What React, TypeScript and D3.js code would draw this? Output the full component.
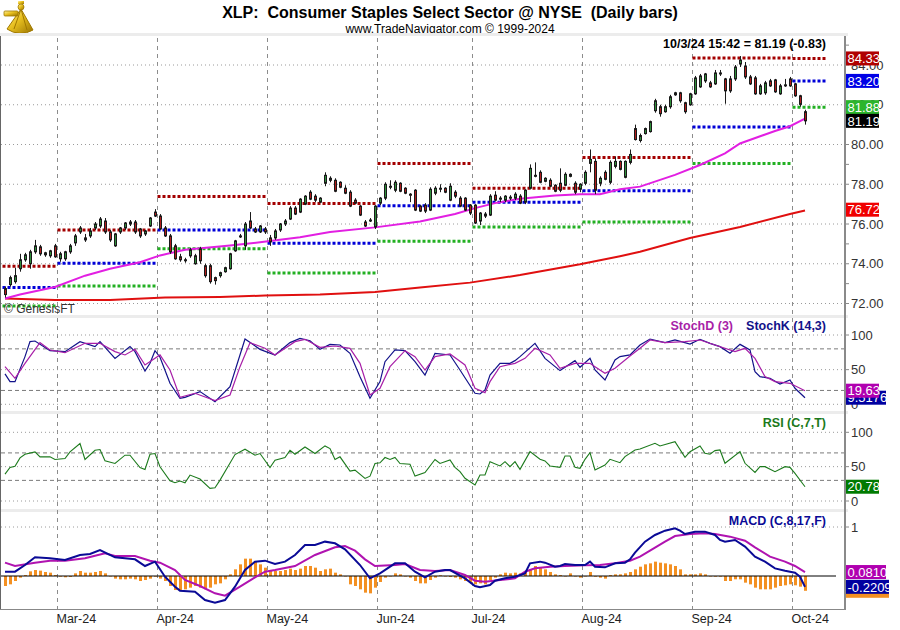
import React from 'react';
import * as d3 from 'd3';

const FONT = '"Liberation Sans", Arial, Helvetica, sans-serif';

// ---------- x axis / months ----------
const monthLabels = ['Mar-24', 'Apr-24', 'May-24', 'Jun-24', 'Jul-24', 'Aug-24', 'Sep-24', 'Oct-24'];
const monthStarts = [11, 31, 53, 75, 94, 116, 138, 158];

// ---------- monthly pivot levels (Feb..Oct) ----------
const pivotStart = [-1, 11, 31, 53, 75, 94, 116, 138, 158];
const pivotEnd = [10, 30, 52, 74, 93, 115, 137, 157, 164];
const pivotR = [73.87, 75.7, 77.38, 77.03, 79.05, 77.8, 79.35, 84.35, 84.33];
const pivotP = [72.8, 74.03, 75.7, 75.03, 76.92, 77.1, 77.67, 80.88, 83.2];
const pivotS = [71.87, 72.88, 74.75, 73.53, 75.13, 75.85, 76.1, 79.05, 81.88];

// ---------- daily OHLC (Feb 14 2024 .. Oct 3 2024) ----------
const opens = [
  72.75, 72.95, 73.10, 73.75, 74.20, 74.00, 74.60, 74.85, 74.45, 74.40,
  74.90, 74.25, 74.25, 74.60, 75.05, 75.60, 75.30, 75.40, 75.80, 75.90,
  76.15, 75.60, 74.90, 75.60, 75.80, 76.00, 76.10, 75.75, 75.50, 75.90,
  76.60, 76.40, 75.80, 75.40, 74.90, 74.35, 74.20, 74.40, 74.00, 74.75,
  73.90, 73.90, 73.30, 73.40, 73.60, 73.75, 74.65, 75.35, 74.90, 76.15,
  75.75, 75.60, 75.75, 75.30, 75.30, 75.70, 76.00, 76.25, 76.80, 76.60,
  77.00, 77.60, 77.40, 77.10, 78.05, 78.20, 78.20, 78.10, 77.80, 77.60,
  77.20, 76.90, 76.10, 76.15, 75.85, 77.05, 77.30, 77.85, 77.70, 78.05,
  77.80, 77.50, 77.70, 76.90, 76.95, 76.70, 77.55, 77.75, 77.80, 77.20,
  77.60, 77.30, 77.30, 76.95, 76.95, 76.15, 76.50, 76.45, 77.45, 77.25,
  77.20, 77.30, 77.30, 77.40, 77.10, 77.80, 78.40, 78.60, 78.15, 78.20,
  77.95, 78.05, 77.95, 78.40, 78.05, 77.75, 78.05, 79.05, 79.15, 78.05,
  78.60, 78.10, 78.90, 79.15, 78.35, 79.10, 80.80, 80.20, 80.55, 80.65,
  81.70, 81.90, 81.65, 81.90, 82.50, 82.60, 82.10, 82.00, 82.55, 82.90,
  83.20, 83.10, 83.05, 83.55, 83.30, 83.30, 83.30, 84.05, 83.95, 83.40,
  83.35, 82.55, 82.60, 83.20, 83.25, 82.55, 82.95, 83.30, 83.05, 82.45,
  81.65,
];
const highs = [
  72.85, 73.40, 73.80, 74.50, 74.55, 74.70, 75.20, 74.95, 74.60, 74.70,
  75.00, 74.60, 74.65, 75.00, 75.50, 75.90, 75.50, 75.80, 76.10, 76.35,
  76.30, 75.70, 75.55, 75.85, 76.10, 76.20, 76.20, 75.80, 75.70, 76.35,
  76.75, 76.50, 75.90, 75.50, 75.00, 74.50, 74.30, 74.80, 74.50, 74.85,
  74.00, 74.00, 73.35, 73.60, 73.85, 74.55, 75.20, 75.50, 76.10, 76.60,
  75.85, 75.95, 75.85, 75.45, 75.75, 76.05, 76.25, 76.90, 76.90, 77.30,
  77.45, 77.70, 77.50, 77.35, 78.60, 78.40, 78.30, 78.15, 77.95, 77.70,
  77.30, 76.95, 76.20, 76.30, 76.95, 77.35, 78.10, 78.20, 78.20, 78.10,
  77.85, 77.55, 77.75, 76.95, 77.05, 77.85, 77.90, 78.00, 77.85, 78.05,
  77.70, 77.40, 77.35, 77.00, 77.00, 76.60, 76.60, 77.50, 77.65, 77.40,
  77.45, 77.45, 77.60, 77.50, 77.75, 79.00, 79.10, 78.70, 78.35, 78.30,
  78.00, 78.80, 78.60, 78.55, 78.15, 78.05, 78.70, 79.75, 79.30, 78.40,
  78.70, 79.20, 79.40, 79.20, 79.20, 79.75, 81.00, 80.55, 80.85, 81.20,
  82.30, 82.00, 82.00, 82.50, 82.65, 82.65, 82.15, 82.60, 83.45, 83.55,
  83.60, 83.20, 83.75, 83.75, 83.35, 83.45, 84.00, 84.45, 84.15, 83.50,
  83.45, 83.05, 83.20, 83.30, 83.30, 83.05, 83.30, 83.40, 83.10, 82.50,
  81.75,
];
const lows = [
  72.30, 72.85, 73.00, 73.60, 74.10, 73.75, 74.50, 74.40, 74.35, 74.30,
  74.30, 74.10, 74.15, 74.50, 74.90, 75.50, 75.10, 75.30, 75.70, 75.80,
  75.50, 75.10, 74.85, 75.50, 75.70, 75.90, 75.50, 75.30, 75.40, 75.85,
  76.35, 75.70, 75.35, 74.50, 74.20, 74.10, 74.05, 74.30, 73.95, 74.00,
  73.30, 73.00, 72.95, 73.30, 73.55, 73.70, 74.60, 75.30, 74.70, 75.75,
  75.55, 75.55, 75.50, 74.90, 75.20, 75.60, 75.90, 76.20, 76.45, 76.55,
  76.95, 77.20, 77.10, 77.05, 77.90, 78.10, 77.60, 77.80, 77.50, 76.85,
  77.00, 76.40, 75.85, 76.10, 75.75, 76.95, 77.20, 77.75, 77.60, 77.60,
  77.50, 77.10, 76.65, 76.60, 76.55, 76.65, 77.45, 77.60, 77.55, 77.15,
  77.30, 76.85, 76.65, 76.45, 76.00, 75.95, 76.30, 76.40, 77.15, 77.10,
  77.10, 77.20, 77.20, 77.00, 77.00, 77.75, 78.35, 78.05, 78.10, 77.85,
  77.60, 77.60, 77.90, 78.35, 77.50, 77.60, 77.95, 78.60, 77.50, 77.90,
  78.20, 78.00, 78.80, 78.70, 78.30, 79.00, 80.20, 80.10, 80.50, 80.60,
  81.60, 81.40, 81.60, 81.80, 82.45, 82.10, 81.55, 81.95, 82.50, 82.85,
  83.10, 82.85, 83.00, 83.45, 82.05, 82.60, 83.20, 83.90, 83.30, 83.00,
  82.50, 82.50, 82.50, 82.90, 82.60, 82.50, 82.90, 82.90, 82.40, 81.90,
  81.00,
];
const closes = [
  72.45, 73.30, 73.40, 74.20, 74.45, 74.60, 74.90, 74.50, 74.55, 74.65,
  74.35, 74.50, 74.60, 74.90, 75.40, 75.80, 75.20, 75.65, 76.00, 76.25,
  75.60, 75.20, 75.50, 75.80, 76.05, 76.10, 75.60, 75.40, 75.65, 76.30,
  76.40, 75.75, 75.40, 74.60, 74.25, 74.20, 74.15, 74.70, 74.40, 74.15,
  73.40, 73.10, 73.15, 73.55, 73.80, 74.50, 75.15, 75.40, 76.00, 75.80,
  75.60, 75.90, 75.60, 75.10, 75.65, 76.00, 76.15, 76.80, 76.50, 77.25,
  77.40, 77.25, 77.20, 77.30, 78.45, 78.30, 77.65, 77.85, 77.55, 76.90,
  77.05, 76.45, 75.90, 76.20, 76.90, 77.30, 78.00, 77.90, 78.10, 77.65,
  77.55, 77.45, 76.70, 76.65, 76.65, 77.75, 77.80, 77.80, 77.60, 77.90,
  77.40, 76.90, 76.70, 76.55, 76.05, 76.55, 76.40, 77.40, 77.20, 77.30,
  77.40, 77.35, 77.50, 77.05, 77.70, 78.80, 78.45, 78.10, 78.30, 77.90,
  77.65, 77.70, 78.50, 78.50, 77.60, 78.00, 78.60, 79.25, 77.70, 78.30,
  78.25, 79.10, 79.15, 78.75, 79.15, 79.50, 80.25, 80.45, 80.80, 81.15,
  82.20, 81.55, 81.90, 82.40, 82.60, 82.20, 81.65, 82.55, 83.35, 83.45,
  83.55, 82.90, 83.60, 83.60, 82.70, 82.70, 83.90, 84.25, 83.40, 83.05,
  82.55, 82.95, 83.10, 82.95, 82.65, 82.95, 83.00, 82.95, 82.45, 82.02,
  81.19,
];

// ---------- moving averages [barIndex, value] ----------
const ma50 = [
  [0, 72.25], [3, 72.45], [10, 72.83], [16, 73.4], [21, 73.75], [27, 74.08], [31, 74.42], [36, 74.7],
  [45, 74.92], [51, 75.08], [59, 75.33], [65, 75.6], [74, 75.83], [83, 76.13], [90, 76.5], [94, 76.8],
  [98, 77.05], [103, 77.27], [110, 77.43], [115, 77.5], [119, 77.5], [123, 77.75], [127, 77.88],
  [134, 78.47], [139, 78.97], [144, 79.55], [147, 80.05], [154, 80.68], [157, 80.92], [160, 81.3],
];
const ma200 = [
  [0, 72.25], [10, 72.18], [21, 72.17], [32, 72.3], [43, 72.33], [52, 72.4], [63, 72.45], [74, 72.58],
  [83, 72.8], [93, 73.05], [103, 73.43], [115, 73.97], [123, 74.38], [127, 74.6], [137, 75.3],
  [147, 75.85], [157, 76.5], [160, 76.68],
];

// ---------- stochastics [barIndex, value] ----------
const stochK = [
  [0, 43.8], [1, 32.7], [2, 32.7], [4, 68.8], [5, 90.4], [6, 91.3], [9, 77.4], [12, 76], [15, 90.4],
  [18, 83.2], [19, 90.4], [22, 66.3], [25, 83.2], [26, 76], [28, 48], [29, 59.1], [30, 77.4], [31, 68],
  [33, 30.3], [35, 8.7], [36, 10], [39, 18.3], [42, 3.8], [45, 25.5], [48, 94.2], [51, 79.3], [54, 71.2],
  [57, 89], [59, 95.2], [61, 91.8], [63, 79.3], [65, 86.5], [67, 85.6], [69, 73.6], [71, 39.9], [73, 8.7],
  [75, 32.7], [76, 61.5], [78, 78.4], [80, 77.4], [82, 61.5], [84, 42.3], [86, 73.6], [89, 71.2],
  [91, 49.5], [94, 15.9], [95, 14.9], [96, 20.7], [97, 42.3], [99, 59.1], [101, 59.1], [102, 63],
  [103, 68.8], [106, 88], [108, 66.3], [111, 48.6], [114, 63], [115, 53.4], [117, 66.3], [118, 49.5],
  [120, 35.1], [122, 63.9], [123, 68.8], [125, 71.2], [127, 85.6], [129, 94.2], [132, 88.9], [134, 92.8],
  [137, 87], [139, 93.8], [141, 88], [143, 83.2], [145, 73.6], [147, 86.5], [149, 78.4], [150, 47.1],
  [151, 39.9], [153, 37.5], [155, 29.3], [157, 35.1], [158, 23.1], [160, 9.52],
];
const stochD = [
  [0, 54.3], [2, 37.5], [4, 59.1], [7, 88.9], [9, 78.4], [12, 74.5], [16, 88], [19, 88], [22, 76],
  [24, 71.2], [26, 79.3], [28, 56.7], [31, 71.2], [33, 49.5], [35, 10.1], [38, 15.9], [42, 5.3],
  [45, 13.5], [47, 54.3], [49, 88.9], [52, 80.8], [54, 71.2], [58, 90.4], [60, 93.8], [63, 82.2],
  [66, 84.1], [69, 80.8], [71, 59.1], [73, 13.5], [75, 23.1], [77, 54.3], [80, 77.4], [82, 68.8],
  [84, 49.5], [86, 68.8], [89, 72.6], [92, 56.7], [94, 23.1], [96, 16.8], [97, 32.7], [99, 54.3],
  [102, 59.1], [104, 66.3], [106, 80.8], [109, 71.2], [111, 51.9], [114, 59.1], [117, 59.1], [118, 54.3],
  [120, 44.7], [122, 51.9], [125, 69.7], [127, 80.8], [129, 92.8], [132, 88.9], [136, 90.4], [139, 92.8],
  [142, 85.6], [146, 76], [148, 80.8], [150, 66.3], [152, 39.9], [154, 32.7], [157, 30.3], [160, 19.63],
];

// ---------- RSI [barIndex, value] ----------
const rsi = [
  [0, 39.1], [1, 48.8], [2, 50.7], [3, 62.8], [4, 68.1], [6, 71.5], [7, 64.3], [9, 64.3], [10, 60.4],
  [12, 61.8], [13, 71.5], [15, 83.6], [16, 60.4], [18, 73.9], [19, 74.9], [20, 58.5], [22, 54.6],
  [24, 66.7], [25, 66.7], [27, 48.8], [28, 45.9], [29, 68.1], [30, 69.1], [31, 49.8], [33, 29.5],
  [34, 26.6], [35, 29], [36, 26.6], [37, 37.7], [39, 31.9], [41, 18.4], [42, 19.3], [43, 30.4],
  [46, 67.6], [48, 75.4], [50, 66.7], [51, 69.1], [53, 48.8], [54, 59.4], [56, 63.3], [57, 73.9],
  [58, 68.1], [60, 78.7], [62, 69.1], [64, 80.2], [65, 76.3], [66, 60.4], [67, 64.3], [69, 43.5],
  [70, 44.9], [72, 32.9], [73, 36.2], [74, 54.6], [75, 55.6], [76, 63.3], [77, 60.4], [78, 63.3],
  [79, 54.6], [81, 53.6], [82, 36.2], [84, 41.5], [86, 60.4], [87, 54.6], [89, 59.7], [90, 49],
  [91, 42.7], [92, 33], [94, 23.3], [95, 37.9], [96, 37.9], [97, 57.3], [99, 51], [100, 57.3],
  [101, 50], [102, 57.3], [103, 46.1], [105, 71.8], [107, 60.7], [108, 58.3], [109, 51], [111, 49],
  [112, 65.5], [113, 65.5], [114, 49], [115, 47.6], [116, 60.7], [117, 70.4], [118, 45.1], [120, 52.4],
  [121, 60.7], [123, 55.8], [124, 64.6], [126, 74.3], [127, 75.7], [130, 84], [131, 80.1], [134, 86.4],
  [136, 63.6], [137, 71.8], [139, 80.1], [140, 69.4], [141, 68], [142, 73.3], [143, 74.3], [144, 54.9],
  [147, 71.8], [148, 54.9], [150, 41.7], [151, 50], [152, 50], [154, 42.7], [156, 50], [157, 49],
  [158, 40.3], [160, 20.78],
];

// ---------- MACD [barIndex, value] ----------
const macdLine = [
  [0, 0.088], [2, 0.088], [4, 0.224], [6, 0.381], [9, 0.361], [12, 0.327], [15, 0.429], [17, 0.449],
  [19, 0.531], [22, 0.381], [26, 0.34], [28, 0.204], [30, 0.293], [32, -0.014], [34, -0.218], [35, -0.299],
  [38, -0.32], [40, -0.49], [42, -0.544], [44, -0.49], [46, -0.218], [48, 0.122], [50, 0.293], [52, 0.313],
  [54, 0.245], [56, 0.293], [58, 0.429], [60, 0.633], [62, 0.633], [64, 0.701], [66, 0.667], [68, 0.544],
  [71, 0.224], [73, -0.048], [75, 0.054], [78, 0.259], [80, 0.259], [82, 0.088], [84, -0.027], [86, 0.088],
  [88, 0.122], [89, 0.122], [92, -0.048], [94, -0.204], [95, -0.231], [97, -0.184], [98, -0.095],
  [100, -0.048], [102, -0.014], [104, 0.054], [105, 0.259], [107, 0.293], [108, 0.272], [110, 0.19],
  [111, 0.204], [112, 0.245], [114, 0.224], [116, 0.224], [117, 0.293], [118, 0.19], [120, 0.177],
  [122, 0.259], [124, 0.272], [125, 0.34], [126, 0.476], [128, 0.701], [130, 0.837], [132, 0.925],
  [134, 0.973], [135, 0.925], [136, 0.857], [138, 0.905], [140, 0.905], [142, 0.837], [143, 0.735],
  [144, 0.701], [146, 0.735], [148, 0.599], [150, 0.395], [152, 0.293], [154, 0.156], [156, 0.109],
  [158, 0.068], [159, -0.014], [160, -0.2209],
];
const macdSignal = [
  [0, 0.272], [2, 0.204], [6, 0.272], [9, 0.313], [12, 0.313], [16, 0.361], [20, 0.463], [22, 0.408],
  [26, 0.408], [29, 0.313], [31, 0.272], [34, 0.122], [36, -0.082], [39, -0.204], [42, -0.354], [44, -0.401],
  [47, -0.218], [50, -0.027], [52, 0.088], [54, 0.122], [58, 0.204], [62, 0.429], [66, 0.585], [68, 0.612],
  [70, 0.517], [72, 0.34], [74, 0.204], [78, 0.224], [80, 0.245], [83, 0.122], [86, 0.102], [89, 0.122],
  [92, 0.02], [94, -0.095], [96, -0.116], [99, -0.082], [102, -0.048], [104, 0.088], [106, 0.156],
  [109, 0.19], [112, 0.204], [116, 0.218], [119, 0.224], [122, 0.259], [125, 0.313], [127, 0.395],
  [129, 0.517], [132, 0.701], [134, 0.816], [137, 0.857], [140, 0.871], [142, 0.857], [145, 0.803],
  [148, 0.721], [150, 0.585], [153, 0.395], [156, 0.293], [158, 0.204], [160, 0.081],
];
// histogram, one value per bar
const macdHist = [
  -0.204, -0.170, -0.102, -0.034, 0.020, 0.095, 0.122, 0.109, 0.082, 0.068,
  0.020, -0.014, -0.027, -0.020, 0.054, 0.102, 0.068, 0.068, 0.082, 0.102,
  0.054, 0.000, -0.054, -0.068, -0.068, -0.054, -0.068, -0.102, -0.082, -0.054,
  -0.014, -0.054, -0.102, -0.204, -0.286, -0.306, -0.272, -0.238, -0.204, -0.238,
  -0.272, -0.238, -0.170, -0.150, -0.068, 0.034, 0.136, 0.238, 0.354, 0.354,
  0.306, 0.238, 0.170, 0.102, 0.102, 0.102, 0.122, 0.150, 0.122, 0.150,
  0.204, 0.204, 0.170, 0.102, 0.136, 0.150, 0.068, 0.034, 0.000, -0.170,
  -0.204, -0.272, -0.340, -0.354, -0.238, -0.122, -0.034, 0.000, 0.054, 0.034,
  0.000, -0.034, -0.102, -0.150, -0.150, -0.082, -0.034, 0.014, 0.000, -0.020,
  -0.034, -0.068, -0.102, -0.136, -0.170, -0.150, -0.170, -0.082, -0.034, 0.034,
  0.068, 0.054, 0.068, 0.054, 0.082, 0.136, 0.204, 0.170, 0.136, 0.082,
  0.034, 0.020, 0.000, 0.054, 0.000, -0.034, 0.000, 0.082, -0.014, -0.034,
  -0.054, 0.020, 0.034, 0.034, 0.054, 0.082, 0.136, 0.190, 0.238, 0.258,
  0.293, 0.272, 0.258, 0.238, 0.204, 0.136, 0.034, 0.034, 0.034, 0.054,
  0.034, 0.000, -0.014, -0.014, -0.102, -0.102, -0.068, -0.068, -0.136, -0.170,
  -0.238, -0.272, -0.272, -0.272, -0.238, -0.204, -0.190, -0.170, -0.190, -0.218,
  -0.302,
];

// ---------- axis ticks ----------
const priceTicks = [72, 74, 76, 78, 80, 82, 84];
const priceMinorTicks = [72, 73, 74, 75, 76, 77, 78, 79, 80, 81, 82, 83, 84, 85];
const oscTicks = [0, 50, 100];
const macdTicks = [1];

const C = {
  grid: '#9a9a9a',
  up: '#2f8f3a',
  down: '#b01c1c',
  pivR: '#a30000',
  pivP: '#0000d8',
  pivS: '#22b022',
  ma50: '#e21fe2',
  ma200: '#e01010',
  stochK: '#12128a',
  stochD: '#a81fa8',
  rsi: '#1c7a1c',
  macd: '#0a0a96',
  signal: '#b013b0',
  hist: '#f39022',
};

function ValueBox({ y, text, fill, w }: { y: number; text: string; fill: string; w: number }) {
  return (
    <g>
      <rect x={846} y={y - 7} width={w} height={14} fill={fill} />
      {text ? (
        <text x={847.5} y={y} dy="0.36em" fontSize={13} fill="#fff">
          {text}
        </text>
      ) : null}
    </g>
  );
}

export default function App() {
  const x = d3.scaleLinear().domain([-0.6, 167.8]).range([2, 844]);
  const yP = d3.scaleLinear().domain([72, 84]).range([303.5, 65]);
  const yS = d3.scaleLinear().domain([0, 100]).range([404.3, 335]);
  const yR = d3.scaleLinear().domain([0, 100]).range([501, 432.3]);
  const yM = d3.scaleLinear().domain([0, 1]).range([576, 527]);

  const lineOf = (ys: d3.ScaleLinear<number, number>) =>
    d3
      .line<number[]>()
      .x((d) => x(d[0]))
      .y((d) => ys(d[1]));

  const pricePanel = { top: 36, bottom: 315 };
  const stochPanel = { top: 318, bottom: 411 };
  const rsiPanel = { top: 414, bottom: 509 };
  const macdPanel = { top: 512, bottom: 609 };
  const plotRight = 845;

  const monthX = monthStarts.map((s) => x(s - 0.5));

  const hDotted = (y: number, key: string) => (
    <line key={key} x1={1} x2={plotRight} y1={y} y2={y} stroke={C.grid} strokeWidth={1} strokeDasharray="1,3" />
  );
  const hDashed = (y: number, key: string) => (
    <line key={key} x1={1} x2={plotRight} y1={y} y2={y} stroke="#7a7a7a" strokeWidth={1} strokeDasharray="4,3" />
  );

  return (
    <svg
      width={900}
      height={630}
      viewBox="0 0 900 630"
      style={{ position: 'absolute', left: 0, top: 0, background: '#fff' }}
      fontFamily={FONT}
    >
      <defs>
        <clipPath id="clipPrice">
          <rect x={1} y={pricePanel.top} width={plotRight - 1} height={pricePanel.bottom - pricePanel.top} />
        </clipPath>
        <clipPath id="clipStoch">
          <rect x={1} y={stochPanel.top} width={plotRight - 1} height={stochPanel.bottom - stochPanel.top} />
        </clipPath>
        <clipPath id="clipRsi">
          <rect x={1} y={rsiPanel.top} width={plotRight - 1} height={rsiPanel.bottom - rsiPanel.top} />
        </clipPath>
        <clipPath id="clipMacd">
          <rect x={1} y={macdPanel.top} width={plotRight - 1} height={macdPanel.bottom - macdPanel.top} />
        </clipPath>
        <linearGradient id="gold" x1="0" y1="0" x2="1" y2="1">
          <stop offset="0" stopColor="#fff3a0" />
          <stop offset="0.45" stopColor="#e8c020" />
          <stop offset="1" stopColor="#9a7400" />
        </linearGradient>
      </defs>
      <rect x={0} y={0} width={900} height={630} fill="#fff" />

      {/* logo */}
      <g>
        <path d="M21 9 L7 29 A24 24 0 0 0 33 30 Z" fill="url(#gold)" stroke="#a07800" strokeWidth={1} />
        <path d="M21 9 L14 29 M21 9 L27 30" stroke="#a07800" strokeWidth={1} fill="none" />
        <rect x={4} y={11} width={14} height={5} rx={1} fill="url(#gold)" stroke="#a07800" strokeWidth={0.8} />
        <circle cx={21} cy={7} r={3} fill="url(#gold)" stroke="#a07800" strokeWidth={0.8} />
        <rect x={18} y={1} width={6} height={3} fill="url(#gold)" />
      </g>

      {/* titles */}
      <text x={450} y={17.5} textAnchor="middle" fontSize={16} fontWeight="bold" fill="#000" style={{ whiteSpace: 'pre' }}>
        {'XLP:  Consumer Staples Select Sector @ NYSE  (Daily bars)'}
      </text>
      <text x={450} y={33} textAnchor="middle" fontSize={12} fill="#000">
        www.TradeNavigator.com © 1999-2024
      </text>

      {/* panel separator bands */}
      <rect x={0} y={33} width={848} height={3} fill="#ececec" />
      <rect x={0} y={pricePanel.bottom} width={848} height={3} fill="#ececec" />
      <rect x={0} y={stochPanel.bottom} width={848} height={3} fill="#ececec" />
      <rect x={0} y={rsiPanel.bottom} width={848} height={3} fill="#ececec" />

      {/* vertical month grid */}
      {monthX.map((mx, k) => (
        <line key={'vg' + k} x1={mx} x2={mx} y1={38} y2={macdPanel.bottom} stroke="#8c8c8c" strokeWidth={1} strokeDasharray="4,4" />
      ))}

      {/* ---------- price panel ---------- */}
      {priceTicks.map((t) => hDotted(yP(t), 'pg' + t))}
      <g clipPath="url(#clipPrice)">
        {pivotStart.map((s, k) => {
          const x1 = x(s - 0.5);
          const x2 = x(pivotEnd[k] + 0.5) - 1;
          return (
            <g key={'piv' + k}>
              <line x1={x1} x2={x2} y1={yP(pivotR[k])} y2={yP(pivotR[k])} stroke={C.pivR} strokeWidth={3} strokeDasharray="3,2" />
              <line x1={x1} x2={x2} y1={yP(pivotP[k])} y2={yP(pivotP[k])} stroke={C.pivP} strokeWidth={3} strokeDasharray="3,2" />
              <line x1={x1} x2={x2} y1={yP(pivotS[k])} y2={yP(pivotS[k])} stroke={C.pivS} strokeWidth={3} strokeDasharray="3,2" />
            </g>
          );
        })}
        <path d={lineOf(yP)(ma200) || ''} fill="none" stroke={C.ma200} strokeWidth={2} />
        <path d={lineOf(yP)(ma50) || ''} fill="none" stroke={C.ma50} strokeWidth={2} />
        {opens.map((o, i) => {
          const c = closes[i];
          const cx = Math.round(x(i)) + 0.5;
          const top = yP(Math.max(o, c));
          const bot = yP(Math.min(o, c));
          return (
            <g key={'c' + i}>
              <line x1={cx} x2={cx} y1={yP(highs[i])} y2={yP(lows[i])} stroke="#1a1a1a" strokeWidth={1} />
              <rect
                x={cx - 1}
                y={top}
                width={2}
                height={Math.max(1, bot - top)}
                fill={c >= o ? C.up : C.down}
                stroke="#1a1a1a"
                strokeWidth={1}
              />
            </g>
          );
        })}
      </g>
      <text x={4} y={313} fontSize={12} fill="#333">
        © GenesisFT
      </text>
      <text x={826} y={48} textAnchor="end" fontSize={12.5} fontWeight="bold" fill="#000">
        10/3/24 15:42 = 81.19 (-0.83)
      </text>

      {/* ---------- stochastic panel ---------- */}
      {[100, 50, 0].map((t) => hDotted(yS(t), 'sg' + t))}
      {[80, 20].map((t) => hDashed(yS(t), 'sd' + t))}
      <g clipPath="url(#clipStoch)">
        <path d={lineOf(yS)(stochK) || ''} fill="none" stroke={C.stochK} strokeWidth={1.2} />
        <path d={lineOf(yS)(stochD) || ''} fill="none" stroke={C.stochD} strokeWidth={1.2} />
      </g>
      <text x={733} y={330} textAnchor="end" fontSize={12.5} fontWeight="bold" fill={C.stochD}>
        StochD (3)
      </text>
      <text x={826} y={330} textAnchor="end" fontSize={12.5} fontWeight="bold" fill={C.stochK}>
        StochK (14,3)
      </text>

      {/* ---------- RSI panel ---------- */}
      {[100, 50, 0].map((t) => hDotted(yR(t), 'rg' + t))}
      {[70, 30].map((t) => hDashed(yR(t), 'rd' + t))}
      <g clipPath="url(#clipRsi)">
        <path d={lineOf(yR)(rsi) || ''} fill="none" stroke={C.rsi} strokeWidth={1.1} />
      </g>
      <text x={826} y={427} textAnchor="end" fontSize={12.5} fontWeight="bold" fill="#1c7a1c">
        RSI (C,7,T)
      </text>

      {/* ---------- MACD panel ---------- */}
      {hDotted(yM(1), 'mg1')}
      <g clipPath="url(#clipMacd)">
        {macdHist.map((v, i) => {
          const cx = Math.round(x(i));
          const y0 = yM(0);
          const y1 = yM(v);
          return (
            <rect key={'h' + i} x={cx - 1} y={Math.min(y0, y1)} width={3} height={Math.max(0.5, Math.abs(y1 - y0))} fill={C.hist} />
          );
        })}
        <line x1={1} x2={836} y1={yM(0)} y2={yM(0)} stroke="#000" strokeWidth={1} />
        <path d={lineOf(yM)(macdSignal) || ''} fill="none" stroke={C.signal} strokeWidth={2} />
        <path d={lineOf(yM)(macdLine) || ''} fill="none" stroke={C.macd} strokeWidth={2} />
      </g>
      <text x={826} y={525} textAnchor="end" fontSize={12.5} fontWeight="bold" fill="#0a0a96">
        MACD (C,8,17,F)
      </text>

      {/* frame */}
      <line x1={0.5} x2={0.5} y1={36} y2={macdPanel.bottom} stroke="#666" strokeWidth={1} />
      <line x1={0} x2={plotRight + 1} y1={macdPanel.bottom + 0.5} y2={macdPanel.bottom + 0.5} stroke="#888" strokeWidth={1} />
      <line x1={plotRight} x2={plotRight} y1={36} y2={macdPanel.bottom + 1} stroke="#8a8a8a" strokeWidth={2} />

      {/* right axis ticks & labels */}
      {priceMinorTicks.map((t) => (
        <line key={'pt' + t} x1={plotRight} x2={plotRight + 4} y1={yP(t)} y2={yP(t)} stroke="#8a8a8a" strokeWidth={1} />
      ))}
      {priceTicks.map((t) => (
        <text key={'pl' + t} x={851} y={yP(t)} dy="0.36em" fontSize={13} fill="#333">
          {d3.format('.2f')(t)}
        </text>
      ))}
      {oscTicks.map((t) => (
        <g key={'st' + t}>
          <line x1={plotRight} x2={plotRight + 4} y1={yS(t)} y2={yS(t)} stroke="#8a8a8a" />
          <text x={851} y={yS(t)} dy="0.36em" fontSize={13} fill="#333">
            {t}
          </text>
          <line x1={plotRight} x2={plotRight + 4} y1={yR(t)} y2={yR(t)} stroke="#8a8a8a" />
          <text x={851} y={yR(t)} dy="0.36em" fontSize={13} fill="#333">
            {t}
          </text>
        </g>
      ))}
      <line x1={plotRight} x2={plotRight + 4} y1={yM(0)} y2={yM(0)} stroke="#8a8a8a" />
      {macdTicks.map((t) => (
        <g key={'mt' + t}>
          <line x1={plotRight} x2={plotRight + 4} y1={yM(t)} y2={yM(t)} stroke="#8a8a8a" />
          <text x={851} y={yM(t)} dy="0.36em" fontSize={13} fill="#333">
            {t}
          </text>
        </g>
      ))}

      {/* value boxes */}
      <ValueBox y={yP(84.33)} text="84.33" fill="#b00000" w={33} />
      <ValueBox y={yP(83.2)} text="83.20" fill="#0000e6" w={33} />
      <ValueBox y={yP(81.88)} text="81.88" fill="#2cb52c" w={33} />
      <ValueBox y={yP(81.19)} text="81.19" fill="#000" w={33} />
      <ValueBox y={yP(76.72)} text="76.72" fill="#f00000" w={33} />

      <ValueBox y={yS(9.52)} text="9.5176" fill="#0000a0" w={40} />
      <ValueBox y={yS(19.63)} text="19.63" fill="#b000b0" w={33} />

      <ValueBox y={yR(20.78)} text="20.78" fill="#007a00" w={33} />

      <ValueBox y={yM(-0.302)} text="" fill="#f39022" w={43} />
      <ValueBox y={yM(-0.2209)} text="-0.2209" fill="#0000a0" w={43} />
      <ValueBox y={yM(0.081)} text="0.0810" fill="#b000b0" w={40} />

      {/* month labels */}
      {monthLabels.map((m, k) => (
        <text key={'ml' + k} x={monthX[k] - 1} y={623} fontSize={12.5} fill="#222">
          {m}
        </text>
      ))}
    </svg>
  );
}
